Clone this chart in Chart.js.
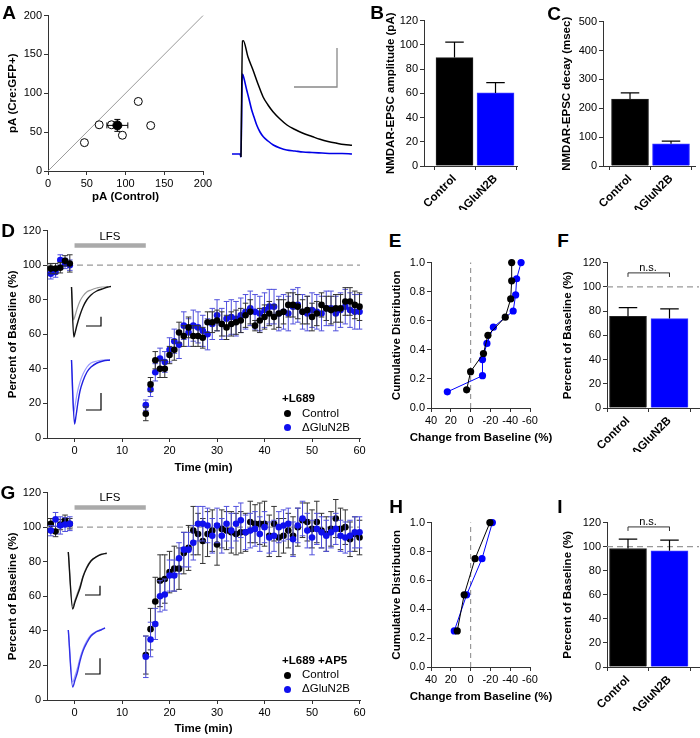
<!DOCTYPE html>
<html><head><meta charset="utf-8">
<script src="https://cdn.jsdelivr.net/npm/chart.js@4.4.1/dist/chart.umd.min.js"></script>
<style>
html,body{margin:0;padding:0;background:#fff;overflow:hidden;}
body{width:700px;height:738px;position:relative;font-family:'Liberation Sans',Arial,Helvetica,sans-serif;}
canvas{position:absolute;}
.t{position:absolute;white-space:nowrap;color:#000;line-height:1;}
.L{font-weight:bold;font-size:19px;transform:translate(-50%,-50%);}
.c{transform:translate(-50%,-50%);}
.l{transform:translate(0,-50%);}
</style></head><body>
<script>
// ================= DATA =================
// Panel A: individual pairs and mean
const A_CTRL = [47, 66, 82, 96, 116.5, 132.5];
const A_CRE  = [36.5, 59.5, 59.5, 46, 89.5, 58.5];
const A_MEAN = [89.5, 58.7];
const A_SEM  = [13.5, 7.7];
const A_TICKS = [0, 50, 100, 150, 200];
const A_DIAG = [0, 200];
// Panel A traces (time, amplitude)
const TA_T_CTRL = [9, 10.5, 11.3, 16, 21, 26, 31, 36, 41, 48, 55, 63, 71, 80, 88, 96, 105, 112, 120];
const TA_CTRL   = [-3, 113, 113.3, 97, 84, 70, 57.3, 49, 42.3, 35, 29, 24.5, 20.7, 17.5, 14.7, 12.5, 10.7, 9.5, 8.7];
const TA_T_KO = [0, 8, 9, 10.3, 11, 14.7, 17, 19.7, 22, 24.7, 28, 31.3, 36, 41.3, 48, 54.7, 63, 71, 80, 90, 100, 110, 120];
const TA_KO   = [0, 0, -3, 80, 79, 64, 55, 44, 37, 29, 22, 17.3, 13, 9, 6, 4, 3, 2, 1.5, 1, 0.5, 0.5, 0];
const TA_BAR_X = [62, 105, 105];
const TA_BAR_Y = [67, 67, 106];

// Bar panels
const GROUPS = ['Control', 'ΔGluN2B'];
const B_MEAN = [89.5, 60.3], B_SEM = [12.7, 8.5];
const C_MEAN = [232, 77],    C_SEM = [21, 9];
const F_MEAN = [75.7, 73.8], F_SEM = [7.2, 8];
const I_MEAN = [98.5, 96.6], I_SEM = [7.7, 8.8];
const F_NS = [108.2, 111.5];
const I_NS = [113.1, 116.4];
const BASELINE = 100;

// Panel D (+L689) time course
const T_BASE = [-5, -4, -3, -2, -1];
const T_POST = [15,16,17,18,19,20,21,22,23,24,25,26,27,28,29,30,31,32,33,34,35,36,37,38,39,40,41,42,43,44,45,46,47,48,49,50,51,52,53,54,55,56,57,58,59,60];
const LFS = [0, 15];
const D_CTRL_BASE = [98, 98, 98.5, 102.5, 101];
const D_KO_BASE   = [95, 96, 103, 101, 100];
const D_CTRL_BASE_E = [3, 3, 3, 3, 5];
const D_KO_BASE_E   = [3, 3, 3, 3, 3];
const D_CTRL = [14,31,45,40,40,48,51,61,59,64,59,59,58,67,67,68,66,64,66,67,68,71,73,65,68,70,72,70,72,73,77,77,76,73,74,70,72,77,75,74,75,75,79,79,77,76];
const D_KO   = [19,28,38,46,44,51,56,54,65,61,65,64,62,60,66,71,66,69,70,69,71,73,75,73,72,74,76,76,72,73,72,76,77,73,72,74,73,72,75,75,72,74,76,74,73,73];
const D_CTRL_E = [4,4,5,5,5,5,6,6,6,6,6,6,6,6,6,6,7,7,7,7,7,7,7,3,7,7,7,7,8,7,7,7,7,7,8,8,7,7,7,8,8,8,8,8,8,8];
const D_KO_E   = [3,4,5,6,6,7,7,8,8,8,9,9,9,9,9,9,9,10,10,10,10,10,10,10,10,10,10,10,10,10,10,10,10,10,10,10,10,10,10,10,10,10,10,10,10,10];

// Panel G (+L689 +AP5) time course
const G_CTRL_BASE = [102, 97.5, 101.5, 104, 102];
const G_KO_BASE   = [98, 104.5, 101, 101.5, 102];
const G_CTRL_BASE_E = [3, 3, 3, 3, 3];
const G_KO_BASE_E   = [3, 4, 5, 4, 4];
const G_CTRL = [26,41,57,69,70,74,76,76,85,88,98,96,92,96,98,90,99,98,97,96,97,97,103,102,102,102,95,102,94,95,98,95,100,104,103,99,103,98,96,99,105,99,100,93,96,94];
const G_KO   = [25,35,44,60,61,72,72,82,87,87,91,102,102,101,95,101,95,102,98,102,104,97,98,99,96,100,94,95,100,101,102,93,101,105,98,94,99,97,95,97,99,95,94,95,97,97];
const G_CTRL_E = [11,12,14,15,14,12,13,12,12,13,14,12,13,13,12,12,11,11,12,12,12,11,12,11,12,13,12,10,11,10,10,11,11,10,11,11,12,10,10,10,11,12,10,10,10,10];
const G_KO_E   = [12,10,9,9,9,9,9,9,10,10,10,10,10,10,10,10,10,10,10,10,10,10,10,10,10,9,9,9,9,9,9,10,10,10,10,10,9,9,9,9,9,9,9,9,9,9];

// Panels E, H cumulative distributions
const E_CTRL_X = [4, 0, -13, -17.5, -35, -40.5, -41.5, -41.5];
const E_CTRL_Y = [0.125, 0.25, 0.375, 0.5, 0.625, 0.75, 0.875, 1.0];
const E_KO_X = [23.5, -12, -12, -16.5, -23, -43, -45.5, -46.5, -51];
const E_KO_Y = [0.111, 0.222, 0.333, 0.444, 0.556, 0.667, 0.778, 0.889, 1.0];
const H_CTRL_X = [13.5, 6.5, -4.5, -19.5];
const H_CTRL_Y = [0.25, 0.5, 0.75, 1.0];
const H_KO_X = [16.5, 4, -11.5, -22];
const H_KO_Y = [0.25, 0.5, 0.75, 1.0];
const CD_TICKS_X = [40, 20, 0, -20, -40, -60];
const CD_TICKS_Y = [0, 0.2, 0.4, 0.6, 0.8, 1.0];

// Inset traces in D and G (time, amplitude)
const TD1_T_A = [1.5, 3.8, 5, 7, 10, 13, 16.7, 21, 26.7, 32, 38, 41];
const TD1_A   = [0, -50, -46, -38, -28, -20, -13, -8, -4, -2, 0, 0.5];
const TD1_T_B = [1.5, 3.5, 5, 7, 10, 13, 16.7, 21, 26.7, 32, 38];
const TD1_B   = [0, -33, -29, -22, -14, -9, -5, -3, -1, 0, 0];
const TD2_T_A = [1.5, 4.5, 6, 8, 10, 13, 17, 21, 27, 33, 40];
const TD2_A   = [0, -64, -56, -42, -31, -21, -12, -7, -3, -1, 0];
const TD2_T_B = [1.5, 3.5, 5, 7, 10, 13, 17, 21, 27, 33, 40];
const TD2_B   = [0, -53, -46, -34, -22, -14, -7, -3, -1, 0, 0];
const TG1_T = [2.3, 6.7, 9, 11.5, 14, 17, 20.7, 25, 30.7, 35, 40.7];
const TG1_A = [0, -57, -50, -43, -36, -25, -16, -9, -4.7, -2.5, -1.3];
const TG1_B = [0, -54, -48, -41, -34, -24, -15, -8.5, -4.5, -2.3, -1.2];
const TG2_T = [2.3, 6.7, 9, 11.5, 14, 17, 20.7, 25, 30, 35, 39];
const TG2_A = [0, -57, -50, -42, -31, -21, -13, -6, -2, 0, 2];
const TG2_B = [0, -52, -46, -38, -28, -19, -11, -5, -1.5, 0.5, 2];
const SB_X = [16, 31, 31];
const SB_D1_Y = [-39, -39, -29.7];
const SB_D2_Y = [-50, -50, -33];
const SB_G_X = [19, 34, 34];
const SB_G1_Y = [-43, -43, -33.7];
const SB_G2_Y = [-44, -44, -28.3];

// ================= STYLE / HELPERS =================
const FONT = "'Liberation Sans', Arial, Helvetica, sans-serif";
Chart.defaults.font.family = FONT;
Chart.defaults.font.size = 11;
Chart.defaults.color = '#000';
const AX = '#333';
const BLACK = '#000000', BLUE = '#0000ff', BLUE_PT = '#1010ee', BLUE_ERR = '#5050dd', GREY_ERR = '#333333';

const errPlugin = {
  id: 'errbars',
  beforeDatasetDraw(chart, args) {
    const ds = chart.data.datasets[args.index];
    if (!ds.yErr && !ds.xErr) return;
    const ctx = chart.ctx, xs = chart.scales.x, ys = chart.scales.y;
    const cw = ds.capW || 2.5;
    ctx.save();
    ctx.strokeStyle = ds.errColor || '#000';
    ctx.lineWidth = ds.errWidth || 1;
    ds.data.forEach((p, i) => {
      const px = xs.getPixelForValue(p.x), py = ys.getPixelForValue(p.y);
      ctx.beginPath();
      if (ds.yErr) {
        const e = ds.yErr[i];
        const a = ys.getPixelForValue(p.y + e), b = ys.getPixelForValue(p.y - e);
        ctx.moveTo(px, a); ctx.lineTo(px, b);
        ctx.moveTo(px - cw, a); ctx.lineTo(px + cw, a);
        ctx.moveTo(px - cw, b); ctx.lineTo(px + cw, b);
      }
      if (ds.xErr) {
        const e = ds.xErr[i];
        const a = xs.getPixelForValue(p.x - e), b = xs.getPixelForValue(p.x + e);
        ctx.moveTo(a, py); ctx.lineTo(b, py);
        ctx.moveTo(a, py - cw); ctx.lineTo(a, py + cw);
        ctx.moveTo(b, py - cw); ctx.lineTo(b, py + cw);
      }
      ctx.stroke();
    });
    ctx.restore();
  }
};
const barErrPlugin = {
  id: 'barerr',
  afterDatasetDraw(chart, args) {
    const ds = chart.data.datasets[args.index];
    if (!ds.upErr) return;
    const ctx = chart.ctx, ys = chart.scales.y;
    ctx.save(); ctx.strokeStyle = '#000'; ctx.lineWidth = 1.2;
    args.meta.data.forEach((el, i) => {
      const top = ys.getPixelForValue(ds.data[i].y + ds.upErr[i]);
      const cw = el.width * 0.25;
      ctx.beginPath();
      ctx.moveTo(el.x, el.y); ctx.lineTo(el.x, top);
      ctx.moveTo(el.x - cw, top); ctx.lineTo(el.x + cw, top);
      ctx.stroke();
    });
    ctx.restore();
  }
};
Chart.register(errPlugin, barErrPlugin);

function mk(area, pad, cfg) {
  const L = area[0] - pad[0], T = area[1] - pad[1];
  const W = area[2] + pad[2] - L, H = area[3] + pad[3] - T;
  const c = document.createElement('canvas');
  c.width = W; c.height = H;
  c.style.left = L + 'px'; c.style.top = T + 'px';
  c.style.width = W + 'px'; c.style.height = H + 'px';
  document.body.appendChild(c);
  const o = cfg.options = cfg.options || {};
  o.responsive = false; o.animation = false; o.devicePixelRatio = 1;
  o.layout = {padding: {left: 0, top: pad[1], right: pad[2], bottom: 0}};
  o.plugins = Object.assign({legend: {display: false}, tooltip: {enabled: false}}, o.plugins || {});
  for (const k in o.scales) {
    const s = o.scales[k];
    if (k === 'y') s.afterFit = sc => { sc.width = pad[0]; };
    else s.afterFit = sc => { sc.height = pad[3]; };
  }
  return new Chart(c, cfg);
}
function lin(min, max, ticks, title, extra) {
  const s = {
    type: 'linear', min, max,
    border: {display: true, color: AX, width: 1},
    grid: {drawOnChartArea: false, drawTicks: true, tickLength: 4, color: AX, lineWidth: 1},
    ticks: {padding: 2, color: '#000', font: {size: 11}, autoSkip: false, maxRotation: 0, minRotation: 0},
    title: title ? {display: true, text: title, font: {size: 11.5, weight: 'bold'}, padding: 0, color: '#000'} : {display: false},
    afterBuildTicks: sc => { sc.ticks = ticks.map(v => ({value: v})); }
  };
  if (extra) {
    for (const k in extra) {
      if (typeof extra[k] === 'object' && !Array.isArray(extra[k]) && s[k]) Object.assign(s[k], extra[k]);
      else s[k] = extra[k];
    }
  }
  return s;
}
function pts(xs, ys) { return xs.map((x, i) => ({x, y: ys[i]})); }
function hidden(min, max) { return {type: 'linear', display: false, min, max}; }
function txt(s, x, y, cls, style) {
  const d = document.createElement('div');
  d.className = 't ' + cls; d.textContent = s;
  d.style.left = x + 'px'; d.style.top = y + 'px';
  if (style) d.style.cssText += style;
  document.body.appendChild(d);
}
function line(data, color, width, extra) {
  return Object.assign({type: 'line', data, borderColor: color, borderWidth: width, pointRadius: 0, fill: false, clip: false, tension: 0}, extra || {});
}

// ================= PANEL A =================
mk([48, 15, 203, 171], [42, 8, 12, 33], {
  type: 'scatter',
  data: {datasets: [
    {data: [{x: A_MEAN[0], y: A_MEAN[1]}], pointRadius: 4.5, backgroundColor: BLACK, borderColor: BLACK,
     xErr: [A_SEM[0]], yErr: [A_SEM[1]], errColor: '#000', capW: 3, clip: false},
    {data: pts(A_CTRL, A_CRE), pointRadius: 4, backgroundColor: '#fff', borderColor: '#000', borderWidth: 1, clip: false},
    line(pts(A_DIAG, A_DIAG), '#999', 1)
  ]},
  options: {scales: {
    x: lin(0, 200, A_TICKS, 'pA (Control)'),
    y: lin(0, 200, A_TICKS, 'pA (Cre:GFP+)')
  }}
});
// A traces
mk([232, 35, 352, 160], [0, 0, 0, 0], {
  type: 'line',
  data: {datasets: [
    line(pts(TA_T_CTRL, TA_CTRL), '#000', 1.5, {cubicInterpolationMode: 'monotone'}),
    line(pts(TA_T_KO, TA_KO), '#0000e6', 1.6, {cubicInterpolationMode: 'monotone'}),
    line(pts(TA_BAR_X, TA_BAR_Y), '#888', 1.3)
  ]},
  options: {scales: {x: hidden(0, 120), y: hidden(-6, 119)}}
});

// ================= BAR PANELS =================
function barPanel(area, pad, xr, ymax, yticks, title, mean, sem, extraDs) {
  const ds = [{
    type: 'bar', data: [{x: 1, y: mean[0]}, {x: 2, y: mean[1]}],
    backgroundColor: [BLACK, BLUE], borderColor: ['#222', '#3a3aff'], borderWidth: 1,
    barThickness: 37, upErr: sem, order: 1
  }].concat(extraDs || []);
  mk(area, pad, {
    type: 'bar',
    data: {datasets: ds},
    options: {scales: {
      x: lin(xr[0], xr[1], [1, 2], null, {
        offset: false,
        ticks: {padding: 2, color: '#000', font: {size: 11.5, weight: 'bold'}, autoSkip: false, maxRotation: 45, minRotation: 45,
                callback: v => GROUPS[v - 1]}
      }),
      y: lin(0, ymax, yticks, title)
    }}
  });
}
barPanel([424, 20, 517, 166], [40, 8, 12, 44], [0.256, 2.524], 120, [0, 20, 40, 60, 80, 100, 120],
  'NMDAR-EPSC amplitude (pA)', B_MEAN, B_SEM);
barPanel([603, 21, 695, 166], [43, 8, 5, 44], [0.341, 2.585], 500, [0, 100, 200, 300, 400, 500],
  'NMDAR-EPSC decay (msec)', C_MEAN, C_SEM);
const nsBracket = (ns) => line([{x: 1, y: ns[0]}, {x: 1, y: ns[1]}, {x: 2, y: ns[1]}, {x: 2, y: ns[0]}], '#333', 1, {order: 0});
const dash100 = (xr) => line([{x: xr[0], y: BASELINE}, {x: xr[1], y: BASELINE}], '#999', 1.3, {borderDash: [6, 4], order: 2});
barPanel([607, 262, 699, 408], [46, 8, 1, 44], [0.494, 2.711], 120, [0, 20, 40, 60, 80, 100, 120],
  'Percent of Baseline (%)', F_MEAN, F_SEM, [nsBracket(F_NS), dash100([0.494, 2.711])]);
barPanel([607, 522, 699, 667], [46, 8, 1, 44], [0.494, 2.711], 120, [0, 20, 40, 60, 80, 100, 120],
  'Percent of Baseline (%)', I_MEAN, I_SEM, [nsBracket(I_NS), dash100([0.494, 2.711])]);

// ================= CUMULATIVE (E, H) =================
function cumPanel(area, pad, cx, cy, kx, ky) {
  mk(area, pad, {
    type: 'line',
    data: {datasets: [
      line(pts(cx, cy), '#000', 1, {pointRadius: 3.6, pointBackgroundColor: '#000', pointBorderWidth: 0}),
      line(pts(kx, ky), '#0000ff', 1, {pointRadius: 3.6, pointBackgroundColor: '#0000ff', pointBorderWidth: 0}),
      line([{x: 0, y: 0}, {x: 0, y: 1}], '#999', 1.2, {borderDash: [5, 4]})
    ]},
    options: {scales: {
      x: lin(-60, 40, CD_TICKS_X, null, {reverse: true}),
      y: lin(0, 1, CD_TICKS_Y, 'Cumulative Distribution', {ticks: {callback: v => v.toFixed(1)}})
    }}
  });
  // axis title wider than the axis itself: placed as text centered under it
  txt('Change from Baseline (%)', (area[0] + area[2]) / 2 + 0.5, area[3] + 30, 'c', 'font-size:11.5px;font-weight:bold;');
}
cumPanel([431, 262, 530, 408], [41, 8, 12, 37], E_CTRL_X, E_CTRL_Y, E_KO_X, E_KO_Y);
cumPanel([431, 522, 530, 667], [41, 8, 12, 37], H_CTRL_X, H_CTRL_Y, H_KO_X, H_KO_Y);

// ================= TIME COURSES (D, G) =================
function timePanel(area, pad, cb, kb, cbe, kbe, cp, kp, cpe, kpe, blueTop) {
  const T = T_BASE.concat(T_POST);
  const ctrl = {type: 'scatter', data: pts(T, cb.concat(cp)), yErr: cbe.concat(cpe), errColor: GREY_ERR, capW: 2.8,
    pointRadius: 3.3, backgroundColor: '#000', borderWidth: 0, clip: false};
  const ko = {type: 'scatter', data: pts(T, kb.concat(kp)), yErr: kbe.concat(kpe), errColor: BLUE_ERR, capW: 2.8,
    pointRadius: 3.3, backgroundColor: BLUE_PT, borderWidth: 0, clip: false};
  const xr = [-5.8, 60.1];
  const ds = (blueTop ? [ko, ctrl] : [ctrl, ko]).concat([
    line(pts(LFS, [111.4, 111.4]), '#aaa', 4.5),
    line([{x: xr[0], y: BASELINE}, {x: xr[1], y: BASELINE}], '#999', 1.3, {borderDash: [6, 4]})
  ]);
  mk(area, pad, {
    type: 'scatter',
    data: {datasets: ds},
    options: {scales: {
      x: lin(xr[0], xr[1], [0, 10, 20, 30, 40, 50, 60], 'Time (min)'),
      y: lin(0, 120, [0, 20, 40, 60, 80, 100, 120], 'Percent of Baseline (%)')
    }}
  });
}
timePanel([47, 230, 360, 438], [41, 8, 10, 37], D_CTRL_BASE, D_KO_BASE, D_CTRL_BASE_E, D_KO_BASE_E, D_CTRL, D_KO, D_CTRL_E, D_KO_E, false);
timePanel([47, 492, 360, 700], [41, 8, 10, 36], G_CTRL_BASE, G_KO_BASE, G_CTRL_BASE_E, G_KO_BASE_E, G_CTRL, G_KO, G_CTRL_E, G_KO_E, true);

// insets
function inset(area, xr, yr, dsets) {
  mk(area, [0, 0, 0, 0], {type: 'line', data: {datasets: dsets}, options: {scales: {x: hidden(xr[0], xr[1]), y: hidden(yr[0], yr[1])}}});
}
const sm = {cubicInterpolationMode: 'monotone'};
inset([70, 280, 112, 340], [0, 42], [-53, 7], [
  line(pts(TD1_T_A, TD1_A), '#111', 1.4, sm),
  line(pts(TD1_T_B, TD1_B), '#999', 1.2, sm),
  line(pts(SB_X, SB_D1_Y), '#000', 1.2)
]);
inset([70, 352, 112, 430], [0, 42], [-70, 8], [
  line(pts(TD2_T_A, TD2_A), '#2020e0', 1.4, sm),
  line(pts(TD2_T_B, TD2_B), '#9a9aff', 1.2, sm),
  line(pts(SB_X, SB_D2_Y), '#000', 1.2)
]);
inset([66, 545, 112, 615], [0, 46], [-63, 7], [
  line(pts(TG1_T, TG1_A), '#111', 1.4, sm),
  line(pts(TG1_T, TG1_B), '#999', 1.2, sm),
  line(pts(SB_G_X, SB_G1_Y), '#000', 1.2)
]);
inset([66, 620, 112, 692], [0, 46], [-62, 10], [
  line(pts(TG2_T, TG2_A), '#3030e6', 1.4, sm),
  line(pts(TG2_T, TG2_B), '#9a9aff', 1.2, sm),
  line(pts(SB_G_X, SB_G2_Y), '#000', 1.2)
]);

// ================= TEXT ANNOTATIONS =================
txt('A', 9, 12, 'L'); txt('B', 377, 12, 'L'); txt('C', 554, 13, 'L');
txt('D', 8, 230, 'L'); txt('E', 395, 240, 'L'); txt('F', 563, 240, 'L');
txt('G', 8, 492, 'L'); txt('H', 396, 506, 'L'); txt('I', 560, 506, 'L');
txt('LFS', 110, 237, 'c', 'font-size:11.5px;');
txt('LFS', 110, 498, 'c', 'font-size:11.5px;');
txt('n.s.', 648, 266.5, 'c', 'font-size:11px;');
txt('n.s.', 648, 520.5, 'c', 'font-size:11px;');
function legend(x, y, head) {
  txt(head, x, y, 'l', 'font-size:11.5px;font-weight:bold;');
  txt('Control', x + 20, y + 14.5, 'l', 'font-size:11.5px;');
  txt('ΔGluN2B', x + 20, y + 28.5, 'l', 'font-size:11.5px;');
  const d1 = document.createElement('div');
  d1.style.cssText = `position:absolute;left:${x + 2}px;top:${y + 11}px;width:7px;height:7px;border-radius:50%;background:#000;`;
  const d2 = document.createElement('div');
  d2.style.cssText = `position:absolute;left:${x + 2}px;top:${y + 25}px;width:7px;height:7px;border-radius:50%;background:${BLUE_PT};`;
  document.body.appendChild(d1); document.body.appendChild(d2);
}
legend(282, 399, '+L689');
legend(282, 660.5, '+L689 +AP5');
</script>
</body></html>
